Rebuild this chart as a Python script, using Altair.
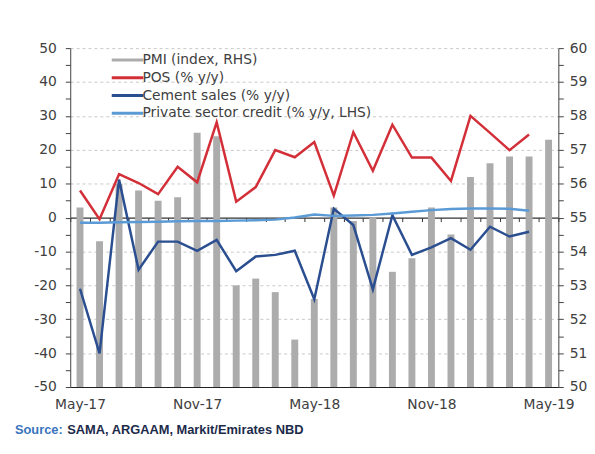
import altair as alt
import pandas as pd

months = ["May-17", "Jun-17", "Jul-17", "Aug-17", "Sep-17", "Oct-17", "Nov-17", "Dec-17",
          "Jan-18", "Feb-18", "Mar-18", "Apr-18", "May-18", "Jun-18", "Jul-18", "Aug-18",
          "Sep-18", "Oct-18", "Nov-18", "Dec-18", "Jan-19", "Feb-19", "Mar-19", "Apr-19", "May-19"]
pmi = [55.3, 54.3, 56.0, 55.8, 55.5, 55.6, 57.5, 57.4, 53.0, 53.2, 52.8, 51.4, 52.6,
       55.3, 54.9, 55.0, 53.4, 53.8, 55.3, 54.5, 56.2, 56.6, 56.8, 56.8, 57.3]
pos = [8.0, -0.5, 12.8, 10.2, 6.9, 15.0, 10.4, 28.1, 4.7, 9.0, 19.9, 17.8, 22.3,
       6.5, 25.2, 13.8, 27.4, 17.7, 17.7, 10.8, 30.0, 25.0, 19.9, 24.5]
cement = [-21.0, -40.1, 11.2, -15.4, -7.1, -7.1, -9.8, -6.6, -15.8, -11.5, -11.0, -9.8, -24.1,
          2.6, -2.2, -21.2, 0.7, -11.0, -8.8, -6.1, -9.5, -2.7, -5.6, -4.2]
credit = [-1.5, -1.5, -1.4, -1.3, -1.2, -1.1, -1.0, -1.0, -0.9, -0.8, -0.6, 0.0, 0.9,
          0.5, 0.6, 0.8, 1.2, 1.7, 2.2, 2.5, 2.7, 2.7, 2.6, 2.0]
x_labels = ["May-17", "Nov-17", "May-18", "Nov-18", "May-19"]
series_names = ["PMI (index, RHS)", "POS (% y/y)", "Cement sales (% y/y)",
                "Private sector credit (% y/y, LHS)"]
series_colors = ["#acacac", "#d32f38", "#2a4e90", "#5b9bd5"]
source_lead = "Source:"
source_rest = "SAMA, ARGAAM, Markit/Emirates NBD"

FONT = "DejaVu Sans"
AX = "#404040"

bars_df = pd.DataFrame({"idx": list(range(len(months))), "month": months, "pmi": pmi})
rows = []
for name, vals in zip(series_names[1:], [pos, cement, credit]):
    for i, v in enumerate(vals):
        rows.append({"idx": i, "month": months[i], "series": name, "value": v})
lines_df = pd.DataFrame(rows)

n = len(months)
xs = alt.Scale(domain=[-0.5, n - 0.5], nice=False, zero=False, padding=0)
month_arr = "[" + ",".join("'" + m + "'" for m in months) + "]"

bars = alt.Chart(bars_df).mark_bar(color="#acacac", size=7).encode(
    x=alt.X("idx:Q", scale=xs,
            axis=alt.Axis(orient="bottom", values=[months.index(m) for m in x_labels],
                          labelExpr=month_arr + "[datum.value]", ticks=False,
                          domainColor="#222222", domainWidth=1.2, labelColor=AX,
                          labelFont=FONT, labelFontSize=14, labelPadding=11,
                          grid=False, title=None)),
    y=alt.Y("pmi:Q", scale=alt.Scale(domain=[50, 60], nice=False, zero=False),
            axis=alt.Axis(orient="right", values=[50 + 0.5 * i for i in range(21)],
                          labelExpr="datum.value % 1 == 0 ? '' + datum.value : ''",
                          tickSize=5, tickColor=AX, domainColor=AX, labelColor=AX,
                          labelFont=FONT, labelFontSize=14, labelPadding=6,
                          grid=False, title=None)),
    y2=alt.datum(50),
)

lines = alt.Chart(lines_df).mark_line(strokeWidth=2.5).encode(
    x=alt.X("idx:Q", scale=xs,
            axis=alt.Axis(orient="bottom", offset=-171.5,
                          values=[i - 0.5 for i in range(n + 1)], labels=False,
                          tickSize=4, tickColor="#333333", domainColor="#333333",
                          domainWidth=1.2, grid=False, title=None)),
    y=alt.Y("value:Q", scale=alt.Scale(domain=[-50, 50], nice=False),
            axis=alt.Axis(orient="left", values=list(range(-50, 55, 5)),
                          labelExpr="datum.value % 10 == 0 ? '' + datum.value : ''",
                          tickSize=5, tickColor=AX, domainColor=AX, labelColor=AX,
                          labelFont=FONT, labelFontSize=14, labelPadding=9,
                          grid=True, gridColor="#c8c8c8", gridDash=[3, 3],
                          gridOpacity={"condition": {"test": "datum.value % 10 == 0 && datum.value != 0 && datum.value != -50", "value": 1}, "value": 0},
                          title=None)),
    color=alt.Color("series:N",
                    scale=alt.Scale(domain=series_names, range=series_colors),
                    sort=series_names,
                    legend=alt.Legend(orient="none", legendX=51, legendY=5, title=None,
                                      symbolType="M-4,0H4", symbolSize=64,
                                      symbolStrokeWidth=3, labelFont=FONT,
                                      labelFontSize=14, labelColor=AX, labelOffset=8,
                                      labelLimit=400, rowPadding=4)),
)

src1 = alt.Chart(pd.DataFrame({"t": [source_lead]})).mark_text(
    align="left", baseline="middle", font="Liberation Sans", fontSize=13, fontWeight="bold",
    color="#3a74bd").encode(text="t:N", x=alt.value(-56), y=alt.value(387))
src2 = alt.Chart(pd.DataFrame({"t": [source_rest]})).mark_text(
    align="left", baseline="middle", font="Liberation Sans", fontSize=13, fontWeight="bold",
    color="#1c2a4a").encode(text="t:N", x=alt.value(-3), y=alt.value(387))

chart = alt.layer(bars, lines, src1, src2).resolve_scale(
    x="independent", y="independent"
).properties(
    width=494, height=343,
    padding={"left": 7, "top": 31, "right": 0, "bottom": 0},
).configure_view(stroke=None)

chart.save("out.html", embed_options={"renderer": "svg", "actions": False})
